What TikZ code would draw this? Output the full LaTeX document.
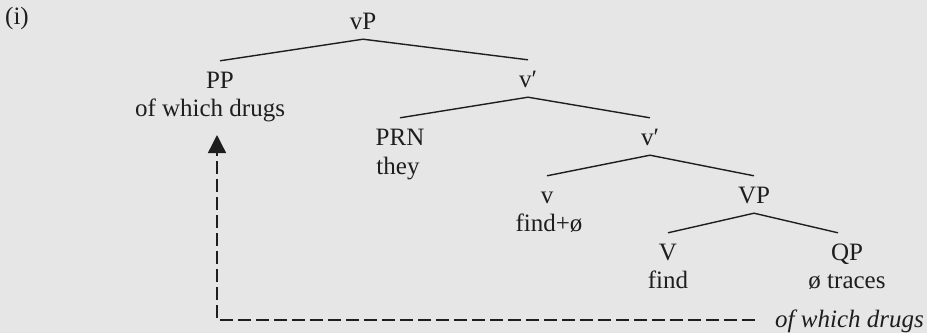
\documentclass[tikz,border=0pt]{standalone}
\usepackage{fontspec}
\setmainfont{Liberation Serif}
\usetikzlibrary{arrows.meta}
\definecolor{bg}{RGB}{230,230,230}
\definecolor{ink}{RGB}{30,30,30}
\begin{document}
\begin{tikzpicture}[x=1pt,y=-1pt,
  every node/.style={font=\fontsize{25}{28}\selectfont, text=ink},
  cat/.style={inner sep=0pt, text height=27pt, text depth=10pt, anchor=base},
  word/.style={inner sep=0pt, anchor=base},
  branch/.style={draw=ink, line width=1.4pt},
  move/.style={draw=ink, line width=1.4pt, dash pattern=on 13pt off 5pt,
    -{Triangle[length=18pt,width=18pt]}}]
\fill[bg] (0,0) rectangle (927,333);
\useasboundingbox (0,0) rectangle (927,333);
\node[word, anchor=base west] (lab) at (5,24) {(i)};
\node[cat] (vP) at (363,29) {vP};
\node[cat] (PP) at (220,88) {PP};
\node[word] (PPw) at (210,116) {of which drugs};
\node[cat] (vb1) at (528,87) {v′};
\node[cat] (PRN) at (400,145) {PRN};
\node[word] (PRNw) at (398,174) {they};
\node[cat] (vb2) at (650,145) {v′};
\node[cat] (v) at (547,203) {v};
\node[word] (vw) at (549,231) {find+ø};
\node[cat] (VP) at (754,203) {VP};
\node[cat] (V) at (668,260) {V};
\node[word] (Vw) at (668,288) {find};
\node[cat] (QP) at (847,260) {QP};
\node[word] (QPw) at (847,288) {ø traces};
\node[word, anchor=base west] (trace) at (775,327) {\itshape of which drugs};
\coordinate (dend) at (755,320);
\draw[branch] (PP.north) -- (vP.south) -- (vb1.north);
\draw[branch] (PRN.north) -- (vb1.south) -- (vb2.north);
\draw[branch] (v.north) -- (vb2.south) -- (VP.north);
\draw[branch] (V.north) -- (VP.south) -- ([xshift=-9pt]QP.north);
\draw[move] (dend) -| ([xshift=7pt,yshift=-19pt]PPw.base);
\end{tikzpicture}
\end{document}
